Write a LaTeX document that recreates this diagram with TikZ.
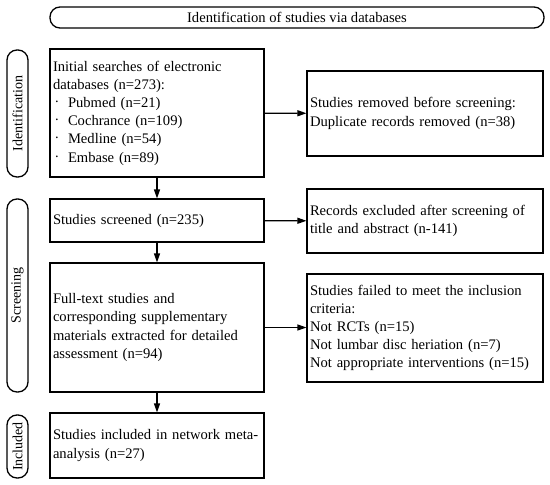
\documentclass[tikz,border=0pt]{standalone}
\usepackage{fontspec}
\setmainfont{Liberation Serif}
\usetikzlibrary{arrows.meta}
\tikzset{
  every node/.style={font=\fontsize{14.6pt}{18.2pt}\selectfont},
  box/.style={draw, line width=1.1pt, inner sep=3pt, align=left, anchor=center},
  pill/.style={draw, line width=1.3pt, rounded corners=10pt, inner sep=0pt, anchor=center},
  sidelabel/.style={rotate=90, font=\fontsize{14pt}{17pt}\selectfont},
  arr/.style={line width=1.1pt, -{Triangle[length=9pt,width=6pt]}},
}
\newcommand{\bul}{\hspace*{2pt}\makebox[13pt][l]{\raisebox{5pt}{.}}}
\begin{document}
\begin{tikzpicture}[x=1pt,y=-1pt]
\useasboundingbox (0,0) rectangle (550,485);
% banner and side pills
\node[pill, minimum width=494pt, minimum height=21pt] (banner) at (297,17.5) {Identification of studies via databases};
\node[pill, minimum width=21pt, minimum height=127pt] (pid) at (17.5,113.5) {};
\node[sidelabel] (tid) at (pid.center) {Identification};
\node[pill, minimum width=21pt, minimum height=193pt] (pscr) at (17.5,295.5) {};
\node[sidelabel] (tscr) at (pscr.center) {Screening};
\node[pill, minimum width=21pt, minimum height=63pt] (pinc) at (17.5,446.5) {};
\node[sidelabel] (tinc) at (pinc.center) {Included};
% boxes
\node[box, text width=208pt, minimum height=128pt] (b1) at (157,113) {Initial searches of electronic\\databases (n=273):\\\bul Pubmed (n=21)\\\bul Cochrance (n=109)\\\bul Medline (n=54)\\\bul Embase (n=89)};
\node[box, text width=230pt, minimum height=85pt] (b2) at (425,113.5) {Studies removed before screening:\\Duplicate records removed (n=38)};
\node[box, text width=208pt, minimum height=43pt] (b3) at (157,220.5) {Studies screened (n=235)};
\node[box, text width=230pt, minimum height=64pt] (b4) at (425,221) {Records excluded after screening of\\title and abstract (n-141)};
\node[box, text width=208pt, minimum height=129pt] (b5) at (157,327.5) {Full-text studies and\\corresponding supplementary\\materials extracted for detailed\\assessment (n=94)};
\node[box, text width=230pt, minimum height=108pt] (b6) at (425,328) {Studies failed to meet the inclusion\\criteria:\\Not RCTs (n=15)\\Not lumbar disc heriation (n=7)\\Not appropriate interventions (n=15)};
\node[box, text width=208pt, minimum height=65pt] (b7) at (157,445.5) {\mbox{Studies included in network meta-}\\analysis (n=27)};
% connectors
\draw[arr] (b1) -- (b2);
\draw[arr] (b3) -- (b4);
\draw[arr] (b5.east) -- (b6.west |- b5.east);
\draw[arr] (b1) -- (b3);
\draw[arr] (b3) -- (b5);
\draw[arr] (b5) -- (b7);
\end{tikzpicture}
\end{document}
